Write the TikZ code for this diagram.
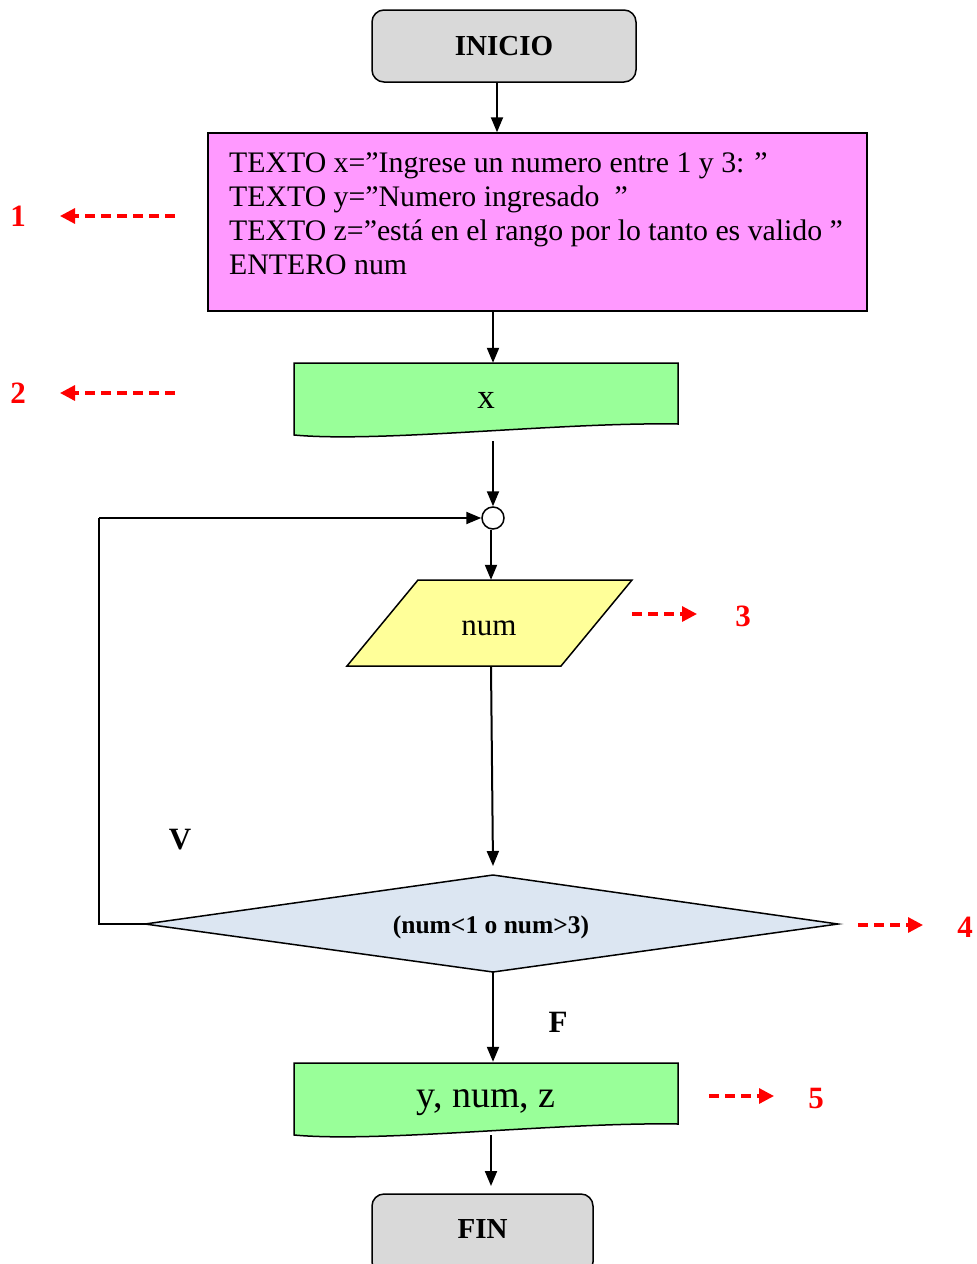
\documentclass[tikz,border=0pt]{standalone}
\usepackage{fontspec}
\setmainfont{Liberation Serif}
\usetikzlibrary{arrows.meta}

\definecolor{termgray}{HTML}{D9D9D9}
\definecolor{declpink}{HTML}{FF99FF}
\definecolor{docgreen}{HTML}{99FF99}
\definecolor{inyellow}{HTML}{FFFF99}
\definecolor{decblue}{HTML}{DCE6F2}
\definecolor{notered}{HTML}{FF0000}

\newcommand{\fs}[1]{\fontsize{#1}{1.17\dimexpr#1pt\relax}\selectfont}

\tikzset{
  terminal/.style={draw=black, line width=1.5pt, fill=termgray, rounded corners=12pt,
    inner sep=0pt},
  flow/.style={line width=2pt, -{Triangle[length=15pt,width=12pt]}},
  shapeline/.style={draw=black, line width=1.5pt},
  note/.style={draw=notered, line width=3.2pt, dash pattern=on 10pt off 6pt,
    -{Triangle[length=15pt,width=15pt]}},
  notenum/.style={text=notered, font=\fs{31}\bfseries, inner sep=0pt},
  branch/.style={font=\fs{31}\bfseries, inner sep=0pt},
  anchorbox/.style={draw=none, inner sep=0pt},
}

\begin{document}
\begin{tikzpicture}[x=1pt, y=-1pt]
  \useasboundingbox (0,0) rectangle (977,1264);

  % start terminal
  \node[terminal, minimum width=264pt, minimum height=72pt] (inicio) at (504,46) {};
  \node[inner sep=0pt, font=\fs{29}\bfseries] at (504,46) {INICIO};

  % declarations block
  \node[shapeline, fill=declpink, minimum width=659pt, minimum height=178pt, inner sep=0pt]
    (decl) at (537.5,222) {};
  \node[anchor=north west, inner sep=0pt, align=left, font=\fontsize{29.8}{34}\selectfont]
    (decltext) at (229,152.5)
    {TEXTO x=”Ingrese un numero entre 1 y 3: ”\\
     TEXTO y=”Numero ingresado \ ”\\
     TEXTO z=”está en el rango por lo tanto es valido ”\\
     ENTERO num};

  % first output document
  \path[shapeline, fill=docgreen]
    (294,363) -- (678,363) -- (678,424)
    .. controls (560,422) and (380,443) .. (294,435) -- cycle;
  \node[anchorbox, minimum width=384pt, minimum height=78pt] (docx) at (486,402) {};
  \node[inner sep=0pt, font=\fs{35}] at (486,400) {x};

  % loop junction
  \node[draw=black, line width=1.5pt, fill=white, circle, minimum size=22pt, inner sep=0pt]
    (join) at (493,518) {};

  % input parallelogram
  \path[shapeline, fill=inyellow]
    (418,580) -- (632,580) -- (561,666) -- (347,666) -- cycle;
  \node[anchorbox, minimum width=214pt, minimum height=86pt] (innum) at (491,623) {};
  \node[inner sep=0pt, font=\fs{31}] at (489,628) {num};

  % decision
  \path[shapeline, fill=decblue]
    (145,924) -- (493,875) -- (838,924) -- (493,972) -- cycle;
  \coordinate (decN) at (493,875);
  \coordinate (decS) at (493,972);
  \coordinate (decW) at (145,924);
  \coordinate (decE) at (838,924);
  \node[inner sep=0pt, font=\fs{25.5}\bfseries] (cond) at (491,927) {(num<1 o num>3)};

  % second output document
  \path[shapeline, fill=docgreen]
    (294,1063) -- (678,1063) -- (678,1124)
    .. controls (560,1122) and (380,1143) .. (294,1135) -- cycle;
  \node[anchorbox, minimum width=384pt, minimum height=76pt] (docout) at (486,1100) {};
  \node[inner sep=0pt, font=\fs{38}] at (486,1103) {y, num, z};

  % end terminal
  \node[terminal, minimum width=221pt, minimum height=80pt] (fin) at (482.5,1234) {};
  \node[inner sep=0pt, font=\fs{29}\bfseries] at (482.5,1229) {FIN};

  % main flow
  \draw[flow] (inicio.south -| 497,0) -- (decl.north -| 497,0);
  \draw[flow] (decl.south -| 493,0) -- (docx.north -| 493,0);
  \draw[flow] (493,441) -- (join.north);
  \draw[flow] (join.south -| 491,0) -- (innum.north -| 491,0);
  \draw[flow] (innum.south -| 491,0) -- (493,866);
  \draw[flow] (decS) -- (docout.north -| 493,0);
  \draw[flow] (491,1135) -- (491,1186);

  % true branch back to the junction
  \draw[line width=2pt] (decW) -- (99,924) -- (99,518);
  \draw[flow] (99,518) -- (join.west);
  \node[branch] at (180,840) {V};
  \node[branch] at (558,1022) {F};

  % step markers
  \coordinate (m1a) at (175,216); \coordinate (m1b) at (60,216);
  \coordinate (m2a) at (175,393); \coordinate (m2b) at (60,393);
  \coordinate (m3a) at (632,614); \coordinate (m3b) at (697,614);
  \coordinate (m4a) at (858,925); \coordinate (m4b) at (923,925);
  \coordinate (m5a) at (709,1096); \coordinate (m5b) at (774,1096);
  \draw[note] (m1a) -- (m1b);
  \draw[note] (m2a) -- (m2b);
  \draw[note] (m3a) -- (m3b);
  \draw[note] (m4a) -- (m4b);
  \draw[note] (m5a) -- (m5b);
  \node[notenum] at (18,216) {1};
  \node[notenum] at (18,393) {2};
  \node[notenum] at (743,616) {3};
  \node[notenum] at (965,927) {4};
  \node[notenum] at (816,1098) {5};
\end{tikzpicture}
\end{document}
